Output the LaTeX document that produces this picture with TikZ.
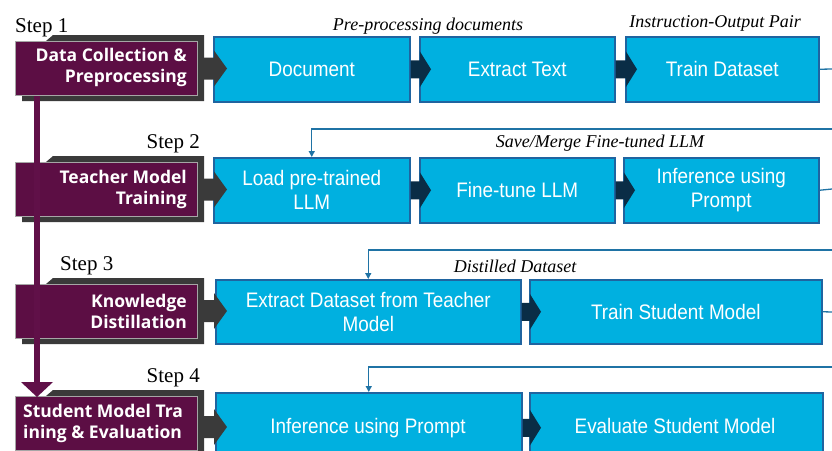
\documentclass[tikz,border=0pt]{standalone}
\usepackage{fontspec}
\setmainfont{Liberation Serif}
\newfontfamily\boxfont[FakeStretch=0.9]{Liberation Sans}
\newfontfamily\stepboxfont{Open Sans}
\usetikzlibrary{arrows.meta,calc}
\definecolor{purp}{RGB}{92,14,68}
\definecolor{purpline}{RGB}{96,16,72}
\definecolor{shadowc}{RGB}{58,58,58}
\definecolor{cyanbox}{RGB}{0,176,224}
\definecolor{cyanedge}{RGB}{31,100,160}
\definecolor{navy}{RGB}{10,45,70}
\definecolor{fbline}{RGB}{31,115,165}
\tikzset{
  bluebox/.style={anchor=north west, fill=cyanbox, draw=cyanedge, line width=1.5pt,
    text=white, font=\boxfont\fontsize{21}{24}\selectfont, align=center, inner sep=0pt},
  purpbox/.style={anchor=north west, fill=purp, draw=gray!70, line width=0.8pt,
    minimum width=182pt, minimum height=54pt, inner sep=0pt},
  purptext/.style={text=white, font=\stepboxfont\bfseries\fontsize{17.5}{21}\selectfont, inner sep=0pt},
  steplabel/.style={font=\fontsize{21}{24}\selectfont, inner sep=0pt},
  italabel/.style={font=\itshape\fontsize{18}{21}\selectfont, inner sep=0pt, anchor=base},
  fb/.style={draw=fbline, line width=1.3pt},
  fbarrow/.style={fb, -{Triangle[length=6pt,width=6pt]}},
}
\begin{document}
\begin{tikzpicture}[x=1pt,y=-1pt]
\useasboundingbox (0,0) rectangle (832,450);
\clip (0,0) rectangle (832,450);

% ---- step labels
\node[steplabel, anchor=base west] (s1) at (15,32) {Step 1};
\node[steplabel, anchor=base east] (s2) at (200,148) {Step 2};
\node[steplabel, anchor=base west] (s3) at (60,270) {Step 3};
\node[steplabel, anchor=base east] (s4) at (200,382) {Step 4};

% ---- italic labels
\node[italabel] (l1) at (428,30) {Pre-processing documents};
\node[italabel] (l2) at (715,27) {Instruction-Output Pair};
\node[italabel] (l3) at (600,147) {Save/Merge Fine-tuned LLM};
\node[italabel] (l4) at (515,272) {Distilled Dataset};

% ---- line end points at the right edge
\coordinate (r1) at (832,69);
\coordinate (r2a) at (832,189);
\coordinate (r3a) at (832,312);
\coordinate (f2) at (832,129);
\coordinate (f3) at (832,250);
\coordinate (f4) at (832,367);

% ---- blue boxes
\node[bluebox, minimum width=196pt, minimum height=65pt] (doc) at (213,36) {Document};
\node[bluebox, minimum width=195pt, minimum height=65pt] (ext) at (419,36) {Extract Text};
\node[bluebox, minimum width=193pt, minimum height=65pt] (trd) at (625,36) {Train Dataset};

\node[bluebox, minimum width=196pt, minimum height=65pt] (load) at (213,157) {Load pre-trained\\LLM};
\node[bluebox, minimum width=195pt, minimum height=65pt] (ft) at (419,157) {Fine-tune LLM};
\node[bluebox, minimum width=195pt, minimum height=65pt] (inf) at (623,157) {Inference using\\Prompt};

\node[bluebox, minimum width=305pt, minimum height=64pt] (extd) at (215,279) {Extract Dataset from Teacher\\Model};
\node[bluebox, minimum width=292pt, minimum height=64pt] (tsm) at (529,279) {Train Student Model};

\node[bluebox, minimum width=306pt, minimum height=70pt] (infp) at (215,392) {};
\node[bluebox, minimum width=293pt, minimum height=70pt] (eval) at (529,392) {};
\node[text=white, font=\boxfont\fontsize{21}{24}\selectfont, anchor=base] (infpt) at (368,433) {Inference using Prompt};
\node[text=white, font=\boxfont\fontsize{21}{24}\selectfont, anchor=base] (evalt) at (675,433) {Evaluate Student Model};

% ---- outgoing lines
\draw[fb] (trd.east) -- (r1);
\draw[fb] (inf.east) -- (r2a);
\draw[fb] (tsm.east) -- (r3a);

% ---- feedback arrows
\draw[fbarrow] (f2) -| (load.north);
\draw[fbarrow] (f3) -| (extd.north);
\draw[fbarrow] (f4) -| (infp.north);

% ---- navy arrows between blue boxes
\foreach \a/\b in {doc/ext, ext/trd, load/ft, ft/inf, extd/tsm, infp/eval}{
  \fill[navy] ($(\a.east)+(0,-9)$) -- ($(\b.west)+(0.8,-9)$) -- ($(\b.west)+(0.8,-18)$)
     -- ($(\b.west)+(12,0)$) -- ($(\b.west)+(0.8,18)$) -- ($(\b.west)+(0.8,9)$)
     -- ($(\a.east)+(0,9)$) -- cycle;
}

% ---- purple step boxes with dark back plates
\foreach \n/\y in {p1/41, p2/162, p3/284, p4/396}{
  \fill[shadowc] (46,\y) -- (53,\y-6) -- (204,\y-6) -- (204,\y+60) -- (22,\y+60) -- (22,\y+54) -- cycle;
  \node[purpbox] (\n) at (15,\y) {};
}
% dark arrows from step boxes to first blue box
\foreach \b/\y in {doc/68.5, load/189.5, extd/311, infp/427}{
  \fill[shadowc] (203,\y-11) -- (214,\y-11) -- (214,\y-18) -- (227,\y) -- (214,\y+18) -- (214,\y+11) -- (203,\y+11) -- cycle;
}

\node[purptext, anchor=east, align=right] (t1) at (187,67.5) {Data Collection \&\\Preprocessing};
\node[purptext, anchor=east, align=right] (t2) at (187,189) {Teacher Model\\Training};
\node[purptext, anchor=east, align=right] (t3) at (187,311) {Knowledge\\Distillation};
\node[purptext, anchor=north west, align=left] (t4) at (23,404) {Student Model Tra\\ining \& Evaluation};

% ---- purple vertical connector
\draw[purpline, line width=6pt] (p1.south -| 37,0) -- (37,383);
\fill[purpline] (21,382) -- (53,382) -- (37,397) -- cycle;
\end{tikzpicture}
\end{document}
